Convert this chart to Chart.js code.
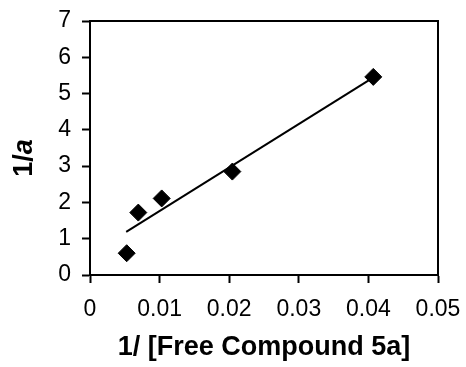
<!DOCTYPE html>
<html>
<head>
<meta charset="utf-8">
<script src="https://cdn.jsdelivr.net/npm/chart.js@4"></script>
<style>
  html, body { margin: 0; padding: 0; background: #fff; }
  #wrap { width: 466px; height: 367px; }
</style>
</head>
<body>
<div id="wrap"><canvas id="bindingChart" width="466" height="367"></canvas></div>
<script>
//DATA
var $xValues = [0.00527, 0.00694, 0.0103, 0.02045, 0.0407];
var $yValues = [0.60, 1.72, 2.11, 2.85, 5.46];

// trend line ends
var $trendX = [0.0052, 0.0405];
var $trendY = [1.19, 5.42];

var $xTicks = [0, 0.01, 0.02, 0.03, 0.04, 0.05];
var $yTicks = [0, 1, 2, 3, 4, 5, 6, 7];

var $black = "#000";
var $font = "'Liberation Sans', Arial, sans-serif";

function toPoints(xs, ys) {
  var pts = [];
  for (var i = 0; i < xs.length; i++) {
    pts.push({ x: xs[i], y: ys[i] });
  }
  return pts;
}

// box round the plot area
var frame = {
  id: "frame",
  afterDatasetsDraw: function (chart) {
    var a = chart.chartArea;
    var ctx = chart.ctx;
    ctx.save();
    ctx.strokeStyle = $black;
    ctx.lineWidth = 2;
    ctx.strokeRect(a.left, a.top, a.right - a.left, a.bottom - a.top);
    ctx.restore();
  }
};

// y title "1/a" with italic a
var yTitle = {
  id: "yTitle",
  afterDraw: function (chart) {
    var a = chart.chartArea;
    var ctx = chart.ctx;
    var f1 = "bold 27px " + $font;
    var f2 = "italic bold 27px " + $font;
    ctx.save();
    ctx.translate(25, (a.top + a.bottom) / 2 + 10);
    ctx.rotate(-Math.PI / 2);
    ctx.font = f1;
    var w1 = ctx.measureText("1/").width;
    ctx.font = f2;
    var w2 = ctx.measureText("a").width;
    var x0 = -(w1 + w2) / 2;
    ctx.fillStyle = $black;
    ctx.textBaseline = "middle";
    ctx.textAlign = "left";
    ctx.font = f1;
    ctx.fillText("1/", x0, 0);
    ctx.font = f2;
    ctx.fillText("a", x0 + w1, 0);
    ctx.restore();
  }
};

function bindingChart() {
  var data = {
    datasets: [
      {
        label: "data",
        data: toPoints($xValues, $yValues),
        pointStyle: "rectRot",
        pointRadius: 8.5,
        pointBackgroundColor: $black,
        pointBorderColor: $black,
        pointBorderWidth: 1,
        showLine: false,
        order: 1
      },
      {
        label: "fit",
        data: toPoints($trendX, $trendY),
        showLine: true,
        borderColor: $black,
        borderWidth: 2,
        pointRadius: 0,
        fill: false,
        order: 2
      }
    ]
  };

  var ctx = document.getElementById("bindingChart").getContext("2d");
  var myScatterChart = new Chart(ctx, {
    type: "scatter",
    data: data,
    options: {
      responsive: false,
      animation: false,
      layout: { padding: { left: 0, right: 28, top: 21, bottom: 0 } },
      plugins: {
        legend: { display: false },
        tooltip: { enabled: false }
      },
      scales: {
        x: {
          type: "linear",
          min: 0,
          max: 0.05,
          afterBuildTicks: function (scale) {
            scale.ticks = $xTicks.map(function (v) { return { value: v }; });
          },
          afterFit: function (scale) {
            scale.height = 92;
            scale.paddingLeft = 0;
            scale.paddingRight = 0;
          },
          grid: { drawOnChartArea: false, drawTicks: true, tickLength: 8, tickColor: $black, tickWidth: 2 },
          border: { display: true, color: $black, width: 2 },
          ticks: {
            color: $black,
            padding: 13,
            maxRotation: 0,
            font: { family: $font, size: 23 },
            callback: function (v) { return String(Math.round(v * 100) / 100); }
          },
          title: {
            display: true,
            text: "1/ [Free Compound 5a]",
            color: $black,
            padding: { top: 0, bottom: 3 },
            font: { family: $font, size: 27, weight: "bold" }
          }
        },
        y: {
          type: "linear",
          min: 0,
          max: 7,
          afterBuildTicks: function (scale) {
            scale.ticks = $yTicks.map(function (v) { return { value: v }; });
          },
          afterFit: function (scale) {
            scale.width = 90;
            scale.paddingTop = 0;
            scale.paddingBottom = 0;
          },
          grid: { drawOnChartArea: false, drawTicks: true, tickLength: 8, tickColor: $black, tickWidth: 2 },
          border: { display: true, color: $black, width: 2 },
          ticks: {
            color: $black,
            padding: 11,
            font: { family: $font, size: 23 }
          }
        }
      }
    },
    plugins: [frame, yTitle]
  });
}

//Show Chart on load
window.onload = function () {
  bindingChart();
};
</script>
</body>
</html>
